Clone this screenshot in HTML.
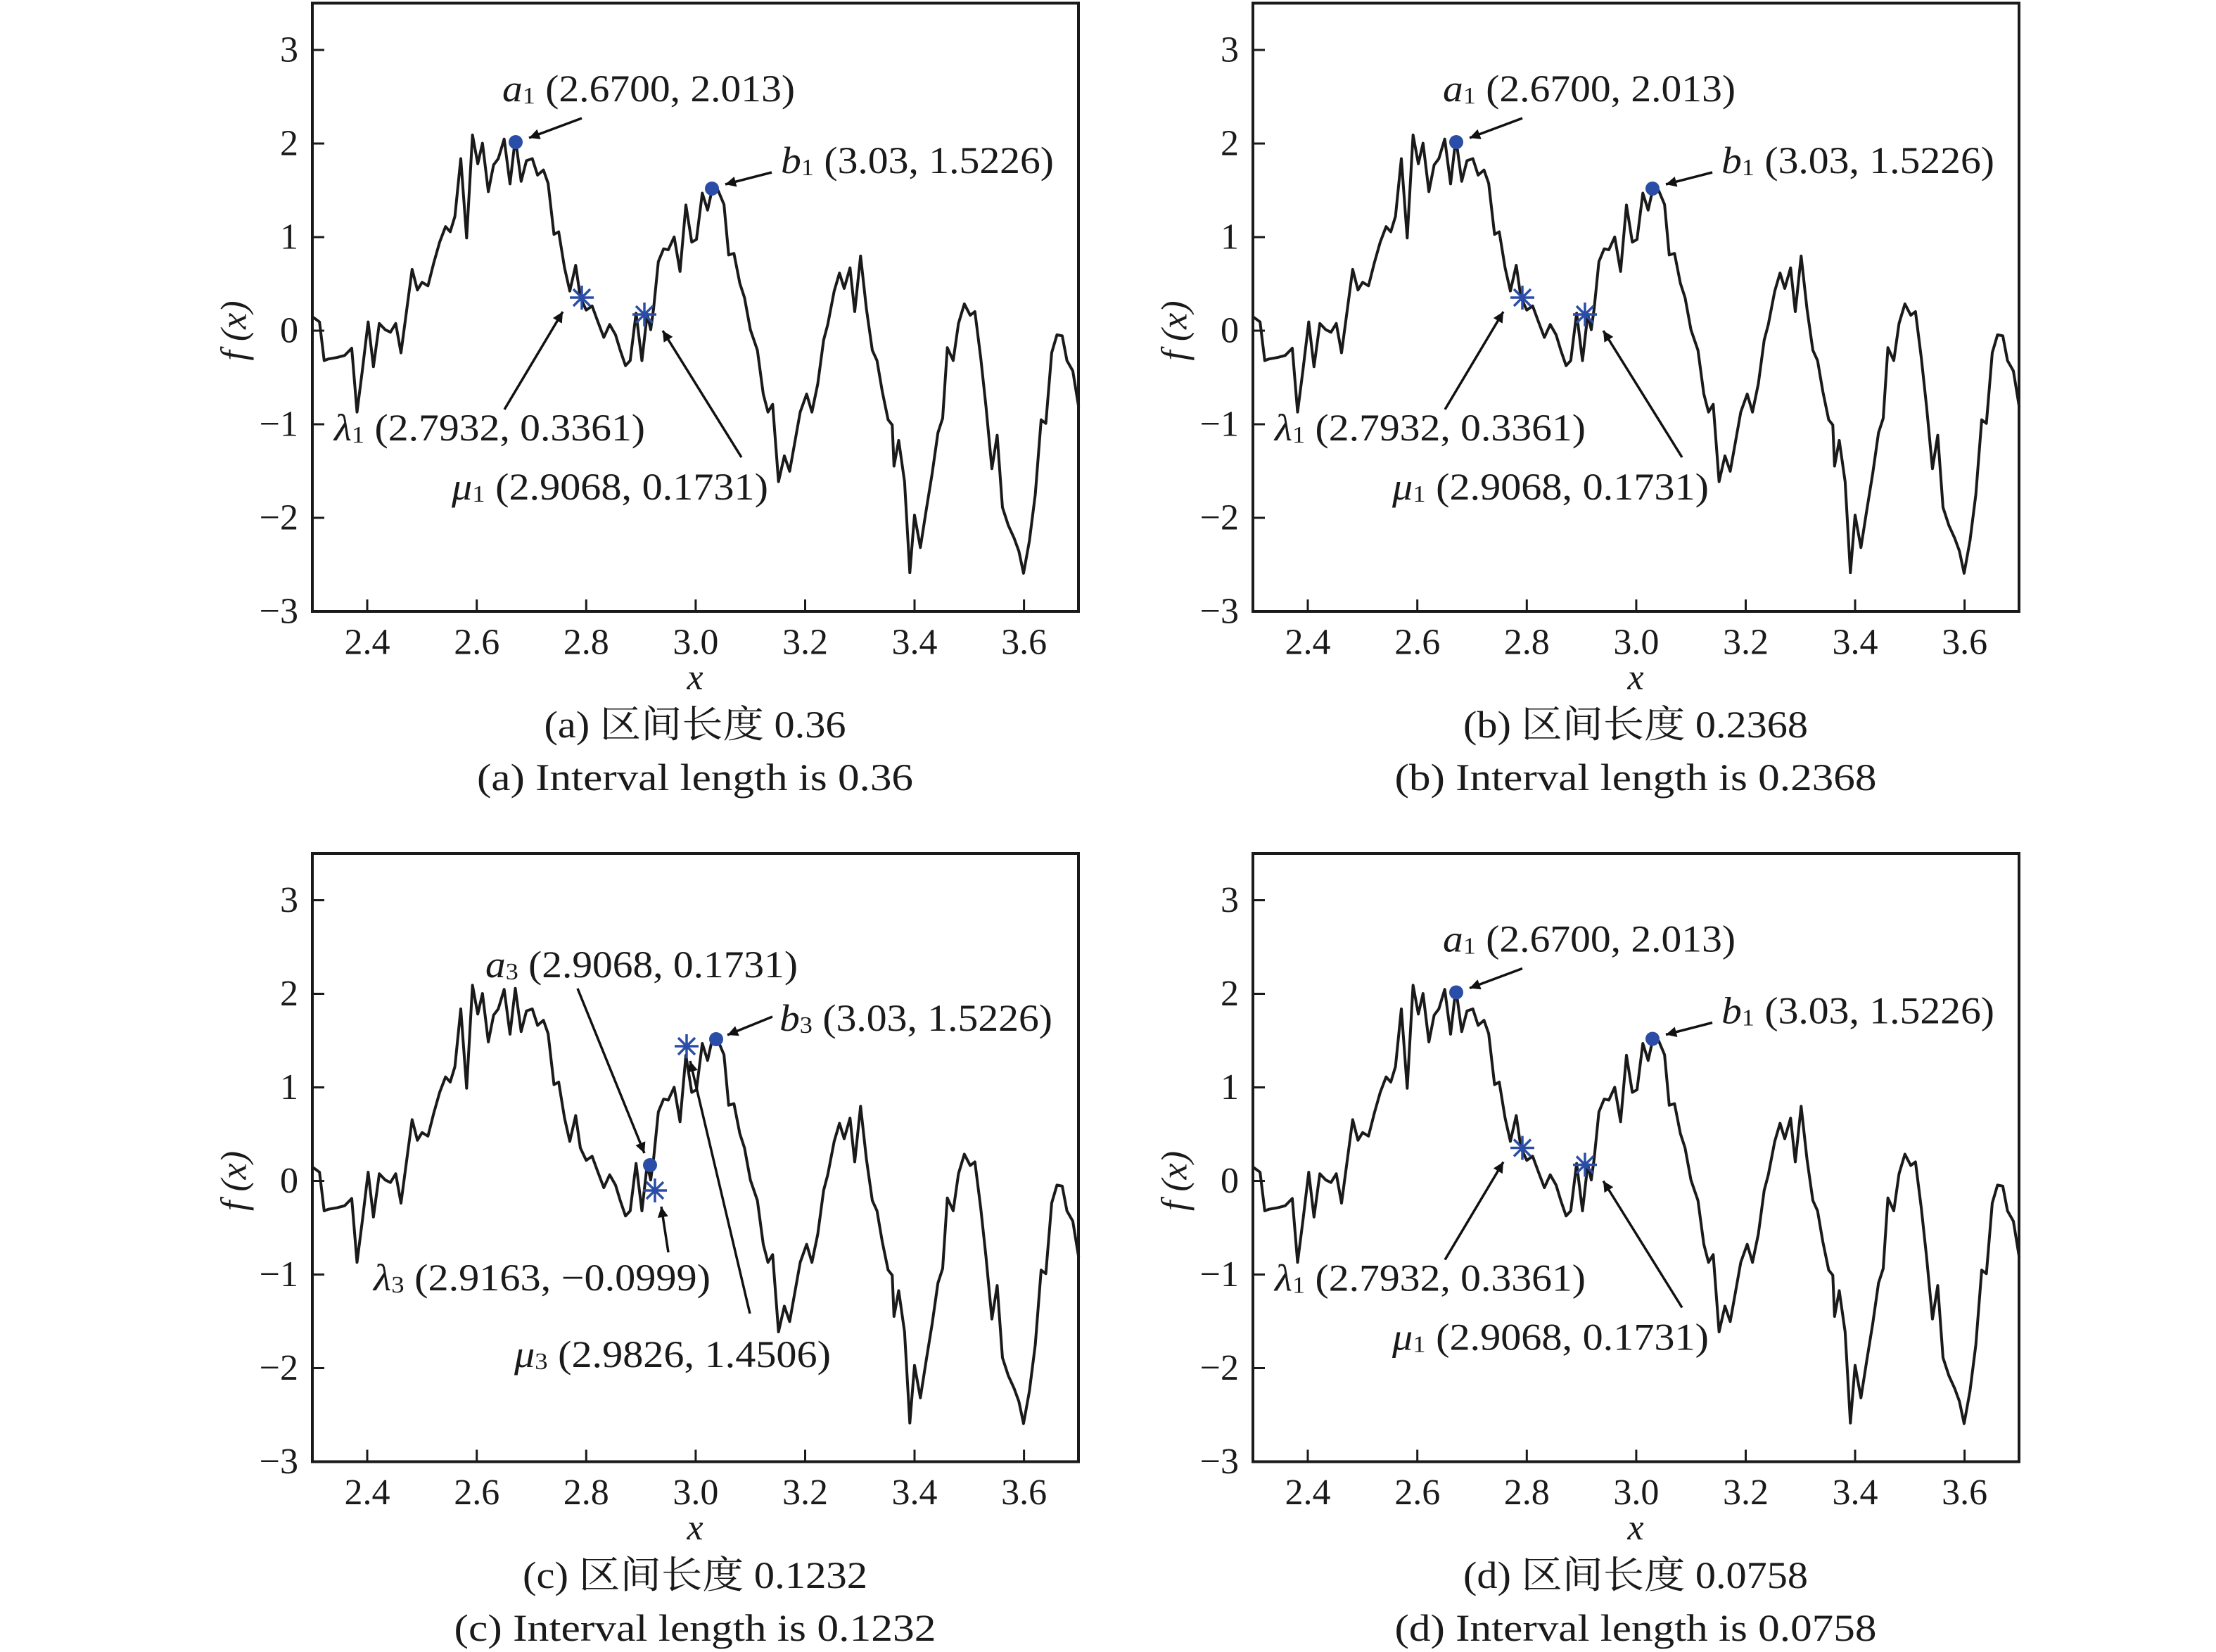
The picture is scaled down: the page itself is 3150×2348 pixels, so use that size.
<!DOCTYPE html>
<html><head><meta charset="utf-8"><style>html,body{margin:0;padding:0;background:#fff}svg{display:block}</style></head>
<body>
<svg xmlns="http://www.w3.org/2000/svg" width="3150" height="2348" viewBox="0 0 3150 2348" font-family="'Liberation Serif','Noto Serif CJK SC',serif" fill="#1a1a1a">
<defs>
<marker id="ah" viewBox="0 0 10 10" refX="10" refY="5" markerWidth="24" markerHeight="15" markerUnits="userSpaceOnUse" orient="auto"><path d="M0,0L10,5L0,10z" fill="#111"/></marker>
<path id="curve" vector-effect="non-scaling-stroke" fill="none" stroke="#1a1a1a" stroke-width="4" stroke-linejoin="round" d="M173,615 L185,625 L193,700 L200,697 L215,694 L228,690 L240,676 L249,800 L258,720 L268,625 L277,712 L287,628 L297,640 L306,645 L315,628 L324,685 L333,608 L343,523 L352,563 L360,548 L370,555 L380,510 L390,470 L400,440 L408,450 L416,420 L426,308 L436,462 L446,262 L455,318 L463,278 L473,372 L482,320 L490,308 L500,270 L510,357 L519,268 L529,352 L538,312 L548,308 L557,340 L567,330 L575,356 L585,455 L593,450 L603,520 L612,565 L622,515 L630,578 L640,602 L650,594 L660,625 L670,655 L680,630 L690,650 L698,680 L707,710 L715,700 L725,608 L735,700 L744,610 L750,640 L755,598 L763,508 L772,483 L780,485 L790,460 L800,527 L810,398 L820,470 L828,465 L838,375 L847,408 L855,367 L865,370 L875,397 L883,495 L892,492 L902,550 L910,578 L920,640 L932,680 L942,765 L950,800 L958,785 L968,935 L978,885 L987,915 L1005,800 L1016,765 L1025,800 L1035,745 L1045,660 L1052,630 L1063,565 L1072,530 L1080,560 L1090,520 L1098,605 L1108,497 L1118,600 L1128,680 L1136,700 L1145,760 L1155,815 L1162,825 L1165,905 L1173,855 L1183,935 L1192,1112 L1200,1000 L1210,1063 L1220,990 L1230,920 L1240,840 L1248,812 L1256,675 L1266,700 L1275,628 L1285,590 L1295,612 L1303,605 L1313,695 L1322,790 L1332,910 L1341,845 L1350,985 L1360,1020 L1370,1045 L1378,1070 L1386,1113 L1396,1050 L1406,960 L1416,815 L1424,822 L1434,685 L1443,650 L1452,652 L1460,700 L1470,720 L1480,790"/>
<g id="axes" fill="none" stroke="#1a1a1a" stroke-width="4">
<rect x="444" y="4.5" width="1089" height="864.5"/>
<path stroke-width="3" d="M444,71h17M444,204h17M444,337h17M444,470h17M444,603h17M444,736h17M522,869v-17M677.7,869v-17M833.3,869v-17M988.9,869v-17M1144.5,869v-17M1300,869v-17M1455.6,869v-17"/>
</g>
<g id="star" stroke="#2a4da8" stroke-width="3.5" fill="none"><path d="M-17,0H17M0,-17V17M-12,-12L12,12M-12,12L12,-12"/></g>
</defs>

<use href="#axes"/><use href="#axes" transform="translate(1337,0)"/><use href="#axes" transform="translate(0,1208.5)"/><use href="#axes" transform="translate(1337,1208.5)"/>
<g transform="translate(300,0) scale(0.8333,0.7321)"><use href="#curve"/></g>
<g transform="translate(1637,0) scale(0.8333,0.7321)"><use href="#curve"/></g>
<g transform="translate(300,1208.5) scale(0.8333,0.7321)"><use href="#curve"/></g>
<g transform="translate(1637,1208.5) scale(0.8333,0.7321)"><use href="#curve"/></g>

<g font-size="52" text-anchor="end" dominant-baseline="central">
<g><text x="424" y="71">3</text><text x="424" y="204">2</text><text x="424" y="337">1</text><text x="424" y="470">0</text><text x="424" y="603">−1</text><text x="424" y="736">−2</text><text x="424" y="869">−3</text></g>
<g transform="translate(1337,0)"><text x="424" y="71">3</text><text x="424" y="204">2</text><text x="424" y="337">1</text><text x="424" y="470">0</text><text x="424" y="603">−1</text><text x="424" y="736">−2</text><text x="424" y="869">−3</text></g>
<g transform="translate(0,1208.5)"><text x="424" y="71">3</text><text x="424" y="204">2</text><text x="424" y="337">1</text><text x="424" y="470">0</text><text x="424" y="603">−1</text><text x="424" y="736">−2</text><text x="424" y="869">−3</text></g>
<g transform="translate(1337,1208.5)"><text x="424" y="71">3</text><text x="424" y="204">2</text><text x="424" y="337">1</text><text x="424" y="470">0</text><text x="424" y="603">−1</text><text x="424" y="736">−2</text><text x="424" y="869">−3</text></g>
</g>
<g font-size="52" text-anchor="middle" dominant-baseline="central">
<g><text x="522" y="913">2.4</text><text x="677.7" y="913">2.6</text><text x="833.3" y="913">2.8</text><text x="988.9" y="913">3.0</text><text x="1144.5" y="913">3.2</text><text x="1300" y="913">3.4</text><text x="1455.6" y="913">3.6</text><text x="988" y="963" font-style="italic">x</text><text x="333" y="470" font-style="italic" transform="rotate(-90 333 470)">f (x)</text></g>
<g transform="translate(1337,0)"><text x="522" y="913">2.4</text><text x="677.7" y="913">2.6</text><text x="833.3" y="913">2.8</text><text x="988.9" y="913">3.0</text><text x="1144.5" y="913">3.2</text><text x="1300" y="913">3.4</text><text x="1455.6" y="913">3.6</text><text x="988" y="963" font-style="italic">x</text><text x="333" y="470" font-style="italic" transform="rotate(-90 333 470)">f (x)</text></g>
<g transform="translate(0,1208.5)"><text x="522" y="913">2.4</text><text x="677.7" y="913">2.6</text><text x="833.3" y="913">2.8</text><text x="988.9" y="913">3.0</text><text x="1144.5" y="913">3.2</text><text x="1300" y="913">3.4</text><text x="1455.6" y="913">3.6</text><text x="988" y="963" font-style="italic">x</text><text x="333" y="470" font-style="italic" transform="rotate(-90 333 470)">f (x)</text></g>
<g transform="translate(1337,1208.5)"><text x="522" y="913">2.4</text><text x="677.7" y="913">2.6</text><text x="833.3" y="913">2.8</text><text x="988.9" y="913">3.0</text><text x="1144.5" y="913">3.2</text><text x="1300" y="913">3.4</text><text x="1455.6" y="913">3.6</text><text x="988" y="963" font-style="italic">x</text><text x="333" y="470" font-style="italic" transform="rotate(-90 333 470)">f (x)</text></g>
</g>

<g font-size="54" text-anchor="middle" dominant-baseline="central">
<text x="988" y="1030" textLength="429" lengthAdjust="spacingAndGlyphs">(a) 区间长度 0.36</text>
<text x="988" y="1105" textLength="620" lengthAdjust="spacingAndGlyphs">(a) Interval length is 0.36</text>
<text x="2325" y="1030" textLength="490" lengthAdjust="spacingAndGlyphs">(b) 区间长度 0.2368</text>
<text x="2325" y="1105" textLength="685" lengthAdjust="spacingAndGlyphs">(b) Interval length is 0.2368</text>
<text x="988" y="2239" textLength="490" lengthAdjust="spacingAndGlyphs">(c) 区间长度 0.1232</text>
<text x="988" y="2314" textLength="685" lengthAdjust="spacingAndGlyphs">(c) Interval length is 0.1232</text>
<text x="2325" y="2239" textLength="490" lengthAdjust="spacingAndGlyphs">(d) 区间长度 0.0758</text>
<text x="2325" y="2314" textLength="685" lengthAdjust="spacingAndGlyphs">(d) Interval length is 0.0758</text>
</g>

<g>
<g stroke="#111" stroke-width="3.5" fill="none">
<line x1="827" y1="168" x2="752" y2="196" marker-end="url(#ah)"/>
<line x1="1097" y1="245" x2="1031" y2="262" marker-end="url(#ah)"/>
<line x1="717" y1="582" x2="800" y2="443" marker-end="url(#ah)"/>
<line x1="1054" y1="650" x2="942" y2="470" marker-end="url(#ah)"/>
</g>
<circle cx="733" cy="202" r="10" fill="#2a4da8"/>
<circle cx="1012" cy="268" r="10" fill="#2a4da8"/>
<use href="#star" x="827" y="423"/>
<use href="#star" x="916" y="447"/>
<g font-size="54" dominant-baseline="central">
<text x="714" y="126" textLength="416" lengthAdjust="spacingAndGlyphs"><tspan font-style="italic">a</tspan><tspan font-size="34" dy="10">1</tspan><tspan dy="-10"> (2.6700, 2.013)</tspan></text>
<text x="1110" y="228" textLength="388" lengthAdjust="spacingAndGlyphs"><tspan font-style="italic">b</tspan><tspan font-size="34" dy="10">1</tspan><tspan dy="-10"> (3.03, 1.5226)</tspan></text>
<text x="475" y="608" textLength="442" lengthAdjust="spacingAndGlyphs"><tspan font-style="italic">λ</tspan><tspan font-size="34" dy="10">1</tspan><tspan dy="-10"> (2.7932, 0.3361)</tspan></text>
<text x="642" y="692" textLength="450" lengthAdjust="spacingAndGlyphs"><tspan font-style="italic">μ</tspan><tspan font-size="34" dy="10">1</tspan><tspan dy="-10"> (2.9068, 0.1731)</tspan></text>
</g>
</g>
<g transform="translate(1337,0)">
<g stroke="#111" stroke-width="3.5" fill="none">
<line x1="827" y1="168" x2="752" y2="196" marker-end="url(#ah)"/>
<line x1="1097" y1="245" x2="1031" y2="262" marker-end="url(#ah)"/>
<line x1="717" y1="582" x2="800" y2="443" marker-end="url(#ah)"/>
<line x1="1054" y1="650" x2="942" y2="470" marker-end="url(#ah)"/>
</g>
<circle cx="733" cy="202" r="10" fill="#2a4da8"/>
<circle cx="1012" cy="268" r="10" fill="#2a4da8"/>
<use href="#star" x="827" y="423"/>
<use href="#star" x="916" y="447"/>
<g font-size="54" dominant-baseline="central">
<text x="714" y="126" textLength="416" lengthAdjust="spacingAndGlyphs"><tspan font-style="italic">a</tspan><tspan font-size="34" dy="10">1</tspan><tspan dy="-10"> (2.6700, 2.013)</tspan></text>
<text x="1110" y="228" textLength="388" lengthAdjust="spacingAndGlyphs"><tspan font-style="italic">b</tspan><tspan font-size="34" dy="10">1</tspan><tspan dy="-10"> (3.03, 1.5226)</tspan></text>
<text x="475" y="608" textLength="442" lengthAdjust="spacingAndGlyphs"><tspan font-style="italic">λ</tspan><tspan font-size="34" dy="10">1</tspan><tspan dy="-10"> (2.7932, 0.3361)</tspan></text>
<text x="642" y="692" textLength="450" lengthAdjust="spacingAndGlyphs"><tspan font-style="italic">μ</tspan><tspan font-size="34" dy="10">1</tspan><tspan dy="-10"> (2.9068, 0.1731)</tspan></text>
</g>
</g>
<g transform="translate(1337,1208.5)">
<g stroke="#111" stroke-width="3.5" fill="none">
<line x1="827" y1="168" x2="752" y2="196" marker-end="url(#ah)"/>
<line x1="1097" y1="245" x2="1031" y2="262" marker-end="url(#ah)"/>
<line x1="717" y1="582" x2="800" y2="443" marker-end="url(#ah)"/>
<line x1="1054" y1="650" x2="942" y2="470" marker-end="url(#ah)"/>
</g>
<circle cx="733" cy="202" r="10" fill="#2a4da8"/>
<circle cx="1012" cy="268" r="10" fill="#2a4da8"/>
<use href="#star" x="827" y="423"/>
<use href="#star" x="916" y="447"/>
<g font-size="54" dominant-baseline="central">
<text x="714" y="126" textLength="416" lengthAdjust="spacingAndGlyphs"><tspan font-style="italic">a</tspan><tspan font-size="34" dy="10">1</tspan><tspan dy="-10"> (2.6700, 2.013)</tspan></text>
<text x="1110" y="228" textLength="388" lengthAdjust="spacingAndGlyphs"><tspan font-style="italic">b</tspan><tspan font-size="34" dy="10">1</tspan><tspan dy="-10"> (3.03, 1.5226)</tspan></text>
<text x="475" y="608" textLength="442" lengthAdjust="spacingAndGlyphs"><tspan font-style="italic">λ</tspan><tspan font-size="34" dy="10">1</tspan><tspan dy="-10"> (2.7932, 0.3361)</tspan></text>
<text x="642" y="692" textLength="450" lengthAdjust="spacingAndGlyphs"><tspan font-style="italic">μ</tspan><tspan font-size="34" dy="10">1</tspan><tspan dy="-10"> (2.9068, 0.1731)</tspan></text>
</g>
</g>

<g>
<g stroke="#111" stroke-width="3.5" fill="none">
<line x1="821" y1="1405" x2="916" y2="1639" marker-end="url(#ah)"/>
<line x1="950" y1="1780" x2="940" y2="1715" marker-end="url(#ah)"/>
<line x1="1066" y1="1867" x2="981" y2="1508" marker-end="url(#ah)"/>
<line x1="1098" y1="1445" x2="1034" y2="1471" marker-end="url(#ah)"/>
</g>
<circle cx="924" cy="1656" r="10" fill="#2a4da8"/>
<circle cx="1018" cy="1477" r="10" fill="#2a4da8"/>
<use href="#star" x="976" y="1487"/>
<use href="#star" x="931" y="1692"/>
<g font-size="54" dominant-baseline="central">
<text x="690" y="1371" textLength="444" lengthAdjust="spacingAndGlyphs"><tspan font-style="italic">a</tspan><tspan font-size="34" dy="10">3</tspan><tspan dy="-10"> (2.9068, 0.1731)</tspan></text>
<text x="1108" y="1447" textLength="388" lengthAdjust="spacingAndGlyphs"><tspan font-style="italic">b</tspan><tspan font-size="34" dy="10">3</tspan><tspan dy="-10"> (3.03, 1.5226)</tspan></text>
<text x="531" y="1816" textLength="479" lengthAdjust="spacingAndGlyphs"><tspan font-style="italic">λ</tspan><tspan font-size="34" dy="10">3</tspan><tspan dy="-10"> (2.9163, −0.0999)</tspan></text>
<text x="731" y="1925" textLength="450" lengthAdjust="spacingAndGlyphs"><tspan font-style="italic">μ</tspan><tspan font-size="34" dy="10">3</tspan><tspan dy="-10"> (2.9826, 1.4506)</tspan></text>
</g>
</g>
</svg>
</body></html>
